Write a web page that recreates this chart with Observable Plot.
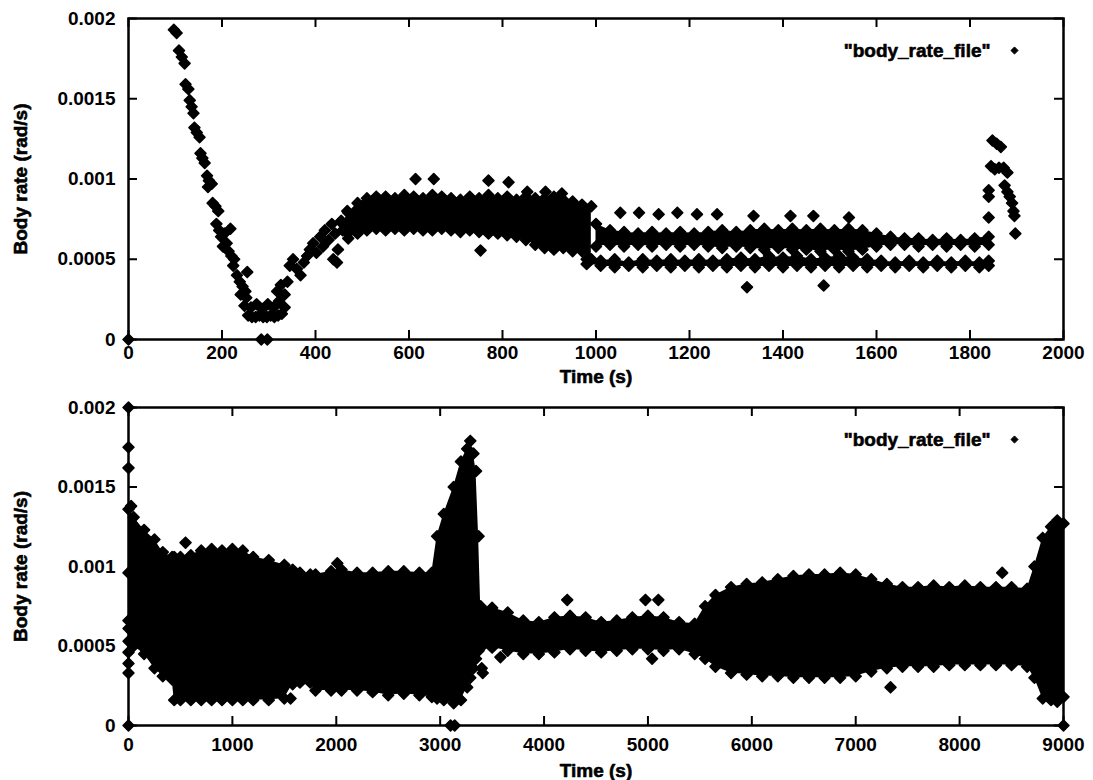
<!DOCTYPE html>
<html><head><meta charset="utf-8">
<script src="https://cdn.jsdelivr.net/npm/d3@7"></script>
<script src="https://cdn.jsdelivr.net/npm/@observablehq/plot@0.6"></script>
<style>
html,body{margin:0;padding:0;background:#fff;overflow:hidden}
#chart svg{display:block}
</style>
</head><body><div id="chart"></div>
<script>
// ---------- shared labels / ticks ----------
const yTicks = [0, 0.0005, 0.001, 0.0015, 0.002];
const yTickLabels = ["0", "0.0005", "0.001", "0.0015", "0.002"];
const topXTicks = [0, 200, 400, 600, 800, 1000, 1200, 1400, 1600, 1800, 2000];
const bottomXTicks = [0, 1000, 2000, 3000, 4000, 5000, 6000, 7000, 8000, 9000];
const xLabel = "Time (s)";
const yLabel = "Body rate (rad/s)";
const legendLabel = "\"body_rate_file\"";

// ---------- top panel: individual samples ----------
const topTime = [0,
  97,103,108,114,120,122,128,131,135,139,141,146,152,154,158,163,168,172,178,170,180,186,192,
  188,194,198,205,210,202,214,218,220,226,
  224,232,238,244,250,254,240,
  248,256,264,272,280,288,296,304,312,320,328,334,252,262,274,286,298,310,322,
  284,297,
  318,326,334,340,345,352,360,368,375,382,388,395,402,410,416,420,428,435,442,448,455,462,468,438,446,
  614,653,770,813,753,853,892,927,
  1052,1092,1134,1174,1216,1259,1337,1416,1465,1541,
  1323,1487,
  1848,1857,1866,1845,1853,1862,1872,1880,1840,1840,1840,1874,1880,1885,1890,1893,1895,1897];
const topRate = [0,
  0.00193,0.00191,0.00180,0.00176,0.00172,0.00159,0.00156,0.00149,0.00145,0.00141,0.00132,0.00129,0.00126,0.00116,0.00113,0.00110,0.00102,0.00099,0.00097,0.00095,0.00085,0.00083,0.00080,
  0.00072,0.00068,0.00064,0.00066,0.00060,0.00058,0.00055,0.00069,0.00052,0.00050,
  0.00046,0.00040,0.00036,0.00033,0.00030,0.00042,0.00028,
  0.00021,0.00015,0.00014,0.00014,0.00015,0.00014,0.00014,0.00015,0.00014,0.00015,0.00016,0.00020,0.00026,0.00020,0.00022,0.00019,0.00022,0.00020,0.00024,
  0,0,
  0.00030,0.00034,0.00028,0.00036,0.00046,0.00050,0.00044,0.00040,0.00048,0.00052,0.00056,0.00060,0.00054,0.00064,0.00058,0.00068,0.00062,0.00072,0.00066,0.00056,0.00074,0.00068,0.00080,0.00050,0.00048,
  0.00100,0.00100,0.00099,0.00098,0.000555,0.00092,0.00092,0.00091,
  0.00079,0.00079,0.00078,0.00079,0.00078,0.00078,0.00077,0.00077,0.00077,0.00076,
  0.000326,0.000336,
  0.00124,0.00122,0.00120,0.00108,0.00106,0.00107,0.00107,0.00104,0.00093,0.00089,0.00076,0.00096,0.00092,0.00089,0.00085,0.00080,0.00077,0.00066];

// top panel dense bands (centre of the outermost samples)
const bandATime = [458,470,490,510,530,550,570,590,610,630,650,670,690,710,730,750,770,790,810,830,850,870,890,910,930,950,970,990];
const bandAHigh = [0.00072,0.00079,0.00085,0.00088,0.00089,0.00089,0.00088,0.00090,0.00089,0.00088,0.00090,0.00089,0.00088,0.00087,0.00089,0.00088,0.00090,0.00088,0.00089,0.00087,0.00089,0.00088,0.00088,0.00089,0.00087,0.00086,0.00084,0.00083];
const bandALow  = [0.00068,0.00063,0.00066,0.00068,0.00069,0.00068,0.00069,0.00068,0.00069,0.00068,0.00068,0.00069,0.00068,0.00067,0.00068,0.00067,0.00066,0.00066,0.00065,0.00064,0.00062,0.00059,0.00057,0.00056,0.00057,0.00055,0.00055,0.00050];

const bandBTime = [1000,1030,1060,1090,1120,1150,1180,1210,1240,1270,1300,1330,1360,1390,1420,1450,1480,1510,1540,1570,1600,1630,1660,1690,1720,1750,1780,1810,1840];
const bandBHigh = [0.00072,0.00068,0.00067,0.00066,0.00067,0.00066,0.00067,0.00066,0.00067,0.00068,0.00067,0.00068,0.00069,0.00068,0.00069,0.00068,0.00069,0.00068,0.00069,0.00068,0.00066,0.00064,0.00063,0.00063,0.00062,0.00063,0.00062,0.00063,0.00064];
const bandBLow  = [0.00058,0.00059,0.00058,0.00059,0.00058,0.00059,0.00058,0.00059,0.00058,0.00057,0.00058,0.00057,0.00056,0.00057,0.00056,0.00056,0.00055,0.00056,0.00055,0.00056,0.00058,0.00059,0.00059,0.00058,0.00059,0.00058,0.00059,0.00058,0.00059];

const bandCTime = [980,1010,1040,1070,1100,1130,1160,1190,1220,1250,1280,1310,1340,1370,1400,1430,1460,1490,1520,1550,1580,1610,1640,1670,1700,1730,1760,1790,1820,1840];
const bandCHigh = [0.00050,0.00049,0.00050,0.00048,0.00050,0.00049,0.00050,0.00049,0.00050,0.00049,0.00050,0.00051,0.00050,0.00052,0.00051,0.00052,0.00050,0.00051,0.00052,0.00051,0.00050,0.00049,0.00048,0.00049,0.00048,0.00049,0.00048,0.00049,0.00048,0.00049];
const bandCLow  = [0.00047,0.00046,0.00045,0.00046,0.00045,0.00046,0.00045,0.00046,0.00045,0.00046,0.00045,0.00046,0.00045,0.00046,0.00045,0.00046,0.00045,0.00046,0.00045,0.00046,0.00045,0.00046,0.00045,0.00046,0.00045,0.00046,0.00045,0.00046,0.00045,0.00046];

// ---------- bottom panel: dense envelope + isolated samples ----------
const bottomTime = [0,50,150,250,330,420,440,500,600,700,800,900,1000,1100,1200,1350,1500,1580,1650,1750,1800,1950,2050,2200,2350,2500,2650,2800,2920,2970,3035,3130,3200,3260,3290,3320,3345,3370,3390,3500,3650,3800,3950,4100,4250,4400,4550,4700,4850,5000,5150,5300,5450,5550,5650,5800,5950,6100,6250,6400,6550,6700,6850,7000,7150,7300,7450,7600,7750,7900,8050,8200,8350,8500,8650,8720,8800,8880,8940,9000];
const bottomHigh = [0.00136,0.00131,0.00123,0.00117,0.00109,0.00106,0.00106,0.00106,0.00107,0.00110,0.00111,0.00110,0.00111,0.00110,0.00106,0.00104,0.00101,0.00098,0.00096,0.00095,0.00095,0.00097,0.00098,0.00096,0.00096,0.00097,0.00097,0.00096,0.00096,0.00119,0.00133,0.00150,0.00166,0.00174,0.00179,0.00171,0.00160,0.00119,0.00075,0.00074,0.00071,0.00066,0.00065,0.00068,0.00069,0.00068,0.00065,0.00066,0.00068,0.00069,0.00068,0.00065,0.00064,0.00075,0.00082,0.00087,0.00089,0.00090,0.00092,0.00094,0.00095,0.00095,0.00096,0.00095,0.00092,0.00089,0.00087,0.00087,0.00088,0.00087,0.00088,0.00087,0.00087,0.00087,0.00086,0.00100,0.00118,0.00125,0.00129,0.00127];
const bottomLow  = [0.00053,0.00050,0.00045,0.00036,0.00031,0.00029,0.00016,0.00016,0.00016,0.00016,0.00016,0.00016,0.00016,0.00016,0.00016,0.00016,0.00017,0.00026,0.00027,0.00027,0.00022,0.00022,0.00022,0.00022,0.00021,0.00019,0.00020,0.00019,0.00018,0.00017,0.00016,0.00014,0.00016,0.00024,0.00030,0.00036,0.00042,0.00047,0.00049,0.00049,0.00047,0.00045,0.00045,0.00046,0.00048,0.00047,0.00046,0.00047,0.00048,0.00048,0.00047,0.00048,0.00045,0.00042,0.00037,0.00033,0.00032,0.00031,0.00031,0.00030,0.00030,0.00030,0.00030,0.00031,0.00034,0.00036,0.00037,0.00037,0.00037,0.00038,0.00038,0.00038,0.00038,0.00038,0.00037,0.00030,0.00017,0.00016,0.00015,0.00018];

const bottomPointTime = [0,0,0,25,0,0,0,0,0,0,0,549,1560,3100,3140,3580,4223,4976,5100,5040,7335,8410,9000,2010,3400,3410];
const bottomPointRate = [0.00200,0.00175,0.00162,0.00138,0.00096,0.00066,0.00061,0.00046,0.00039,0.00033,0,0.00115,0.00017,0,0,0.00043,0.00079,0.00079,0.00079,0.00042,0.00024,0.00096,0,0.00102,0.00036,0.00033];

// ---------- drawing ----------
const FONT = "'Liberation Sans', Arial, Helvetica, sans-serif";
const dotStyle = {symbol: "diamond2", r: 4.9, fill: "black", stroke: "black", strokeWidth: 1.6, strokeLinejoin: "round"};
const textStyle = {fontSize: 19, fontWeight: "bold", fontFamily: FONT, fill: "black", stroke: "black", strokeWidth: 0.6};
const TICK = 9;

const toTable = (t, hi, lo) => t.map((d, i) => ({t: d, hi: hi[i], lo: lo[i]}));
const toPoints = (t, v) => t.map((d, i) => ({t: d, v: v[i]}));

function panel({xMax, xTicks, bands, points, marginTop, marginBottom, xPad, timeDy}) {
  const width = 1093, height = 390, marginLeft = 128, marginRight = 30;
  const innerW = width - marginLeft - marginRight;
  const innerH = height - marginTop - marginBottom;
  const tickStyle = {stroke: "black", strokeWidth: 2};
  const bandMarks = bands.flatMap(b => [
    Plot.areaY(b, {x: "t", y1: "lo", y2: "hi", fill: "black"}),
    Plot.dot(b, {x: "t", y: "hi", ...dotStyle}),
    Plot.dot(b, {x: "t", y: "lo", ...dotStyle})
  ]);
  return Plot.plot({
    width, height, marginLeft, marginRight, marginTop, marginBottom,
    style: {fontFamily: FONT, background: "white"},
    x: {domain: [0, xMax]},
    y: {domain: [0, 0.002]},
    marks: [
      ...bandMarks,
      Plot.dot(points, {x: "t", y: "v", ...dotStyle}),
      Plot.frame({stroke: "black", strokeWidth: 2.5}),
      // inward ticks on all four sides (gnuplot "mirror" style)
      Plot.ruleX(xTicks, {x: d => d, y1: 0.002, y2: 0, insetTop: innerH - TICK, ...tickStyle}),
      Plot.ruleX(xTicks, {x: d => d, y1: 0.002, y2: 0, insetBottom: innerH - TICK, ...tickStyle}),
      Plot.ruleY(yTicks, {y: d => d, x1: 0, x2: xMax, insetRight: innerW - TICK, ...tickStyle}),
      Plot.ruleY(yTicks, {y: d => d, x1: 0, x2: xMax, insetLeft: innerW - TICK, ...tickStyle}),
      Plot.axisX({ticks: xTicks, tickSize: 0, tickPadding: xPad, tickFormat: d => String(d), label: null, ...textStyle}),
      Plot.axisY({ticks: yTicks, tickSize: 0, tickPadding: 13, tickFormat: (d, i) => yTickLabels[i], label: null, ...textStyle}),
      Plot.text([xLabel], {frameAnchor: "bottom", dy: timeDy, lineAnchor: "middle", textAnchor: "middle", ...textStyle}),
      Plot.text([yLabel], {frameAnchor: "left", dx: -108, rotate: -90, lineAnchor: "middle", textAnchor: "middle", ...textStyle}),
      Plot.text([legendLabel], {frameAnchor: "top-right", dx: -73, dy: 32, lineAnchor: "middle", textAnchor: "end", ...textStyle}),
      Plot.dot([legendLabel], {frameAnchor: "top-right", dx: -49, dy: 32, symbol: "diamond2", r: 3.2, fill: "black", stroke: "black", strokeWidth: 1})
    ]
  });
}

const chart = document.getElementById("chart");
chart.append(panel({
  xMax: 2000, xTicks: topXTicks,
  bands: [toTable(bandATime, bandAHigh, bandALow), toTable(bandBTime, bandBHigh, bandBLow), toTable(bandCTime, bandCHigh, bandCLow)],
  points: toPoints(topTime, topRate),
  marginTop: 18, marginBottom: 51, xPad: 6, timeDy: 37
}));
chart.append(panel({
  xMax: 9000, xTicks: bottomXTicks,
  bands: [toTable(bottomTime, bottomHigh, bottomLow)],
  points: toPoints(bottomPointTime, bottomPointRate),
  marginTop: 17, marginBottom: 55, xPad: 12, timeDy: 45
}));
</script>
</body></html>
